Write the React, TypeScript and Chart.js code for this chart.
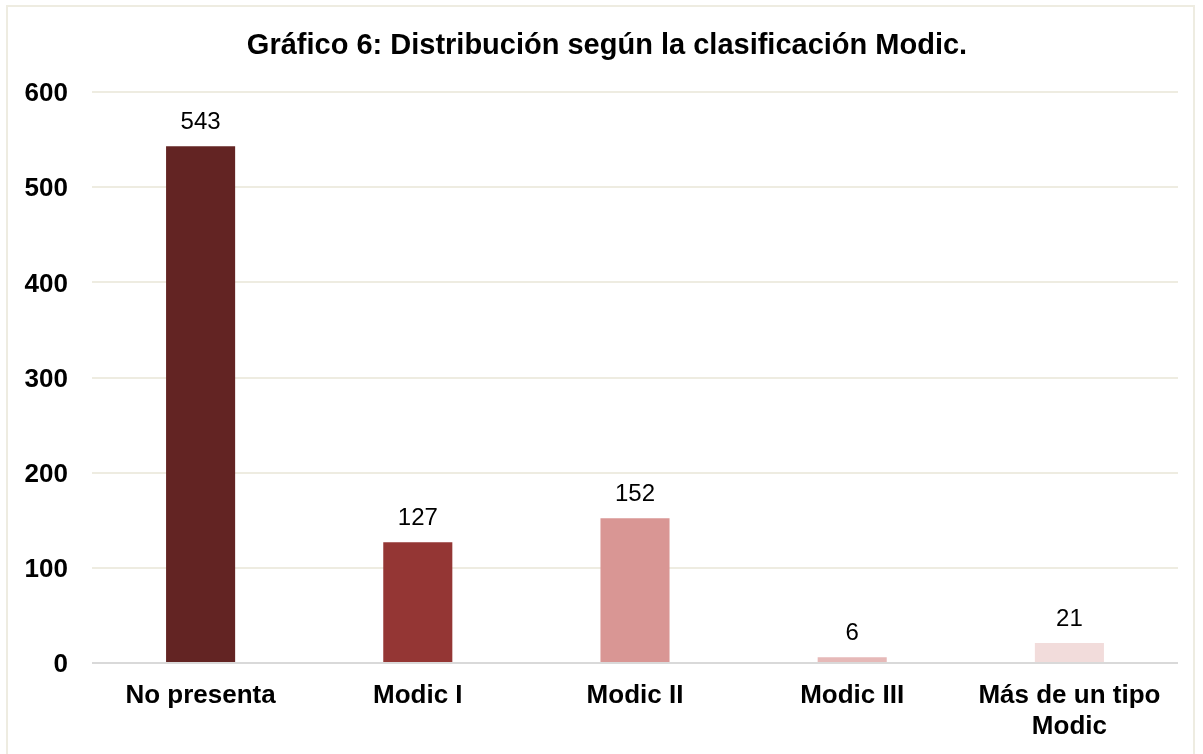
import React, { useEffect, useRef } from "react";
import { Chart, registerables } from "chart.js";

Chart.register(...registerables);

const categories: (string | string[])[] = ["No presenta", "Modic I", "Modic II", "Modic III", ["Más de un tipo", "Modic"]];
const values: number[] = [543, 127, 152, 6, 21];
const barColors: string[] = ["#632423", "#943634", "#d99694", "#e6b9b8", "#f2dcdb"];
const titleText = "Gráfico 6: Distribución según la clasificación Modic.";
const yMin = 0;
const yMax = 600;
const yStep = 100;

const FONT = "'Liberation Sans', Arial, sans-serif";

const titlePlugin = {
  id: "customTitle",
  afterDraw(chart: any) {
    const ctx = chart.ctx;
    ctx.save();
    ctx.font = `bold 29px ${FONT}`;
    ctx.fillStyle = "#000";
    ctx.textAlign = "center";
    ctx.textBaseline = "middle";
    ctx.fillText(titleText, 607, 46);
    ctx.restore();
  },
};

const labelPlugin = {
  id: "valueLabels",
  afterDatasetsDraw(chart: any) {
    const ctx = chart.ctx;
    const meta = chart.getDatasetMeta(0);
    ctx.save();
    ctx.font = `24px ${FONT}`;
    ctx.fillStyle = "#000";
    ctx.textAlign = "center";
    ctx.textBaseline = "middle";
    meta.data.forEach((bar: any, i: number) => {
      ctx.fillText(String(values[i]), bar.x, bar.y - 24);
    });
    ctx.restore();
  },
};

export default function App() {
  const ref = useRef<HTMLCanvasElement>(null);
  useEffect(() => {
    if (!ref.current) return;
    const chart = new Chart(ref.current, {
      type: "bar",
      data: {
        labels: categories,
        datasets: [
          {
            data: values,
            backgroundColor: barColors,
            barPercentage: 0.318,
            categoryPercentage: 1,
          },
        ],
      },
      options: {
        animation: false,
        responsive: false,
        maintainAspectRatio: false,
        layout: { padding: { top: 92, right: 25, left: 0, bottom: 0 } },
        plugins: { legend: { display: false }, tooltip: { enabled: false }, title: { display: false } },
        scales: {
          x: {
            afterFit: (s: any) => {
              s.height = 91;
            },
            grid: { display: false, drawTicks: false },
            border: { display: false },
            ticks: {
              padding: 17,
              color: "#000",
              font: { family: FONT, size: 26, weight: "bold", lineHeight: 1.2 },
              maxRotation: 0,
              autoSkip: false,
            },
          },
          y: {
            min: yMin,
            max: yMax,
            afterFit: (s: any) => {
              s.width = 92;
            },
            grid: {
              drawTicks: false,
              lineWidth: 2,
              color: (c: any) => (c.tick && c.tick.value === 0 ? "#d9d9d9" : "#eeece1"),
            },
            border: { display: false },
            ticks: {
              stepSize: yStep,
              padding: 24,
              labelOffset: 2,
              color: "#000",
              font: { family: FONT, size: 26, weight: "bold" },
            },
          },
        },
      },
      plugins: [titlePlugin, labelPlugin],
    });
    return () => chart.destroy();
  }, []);
  return (
    <div style={{ position: "fixed", left: 0, top: 0, width: 1203, height: 754, background: "#fff", overflow: "hidden" }}>
      <div
        style={{
          position: "absolute",
          left: 6,
          top: 5,
          width: 1189,
          height: 760,
          border: "2px solid #eeece1",
          boxSizing: "border-box",
        }}
      />
      <canvas ref={ref} width={1203} height={754} style={{ position: "absolute", left: 0, top: 0 }} />
    </div>
  );
}
